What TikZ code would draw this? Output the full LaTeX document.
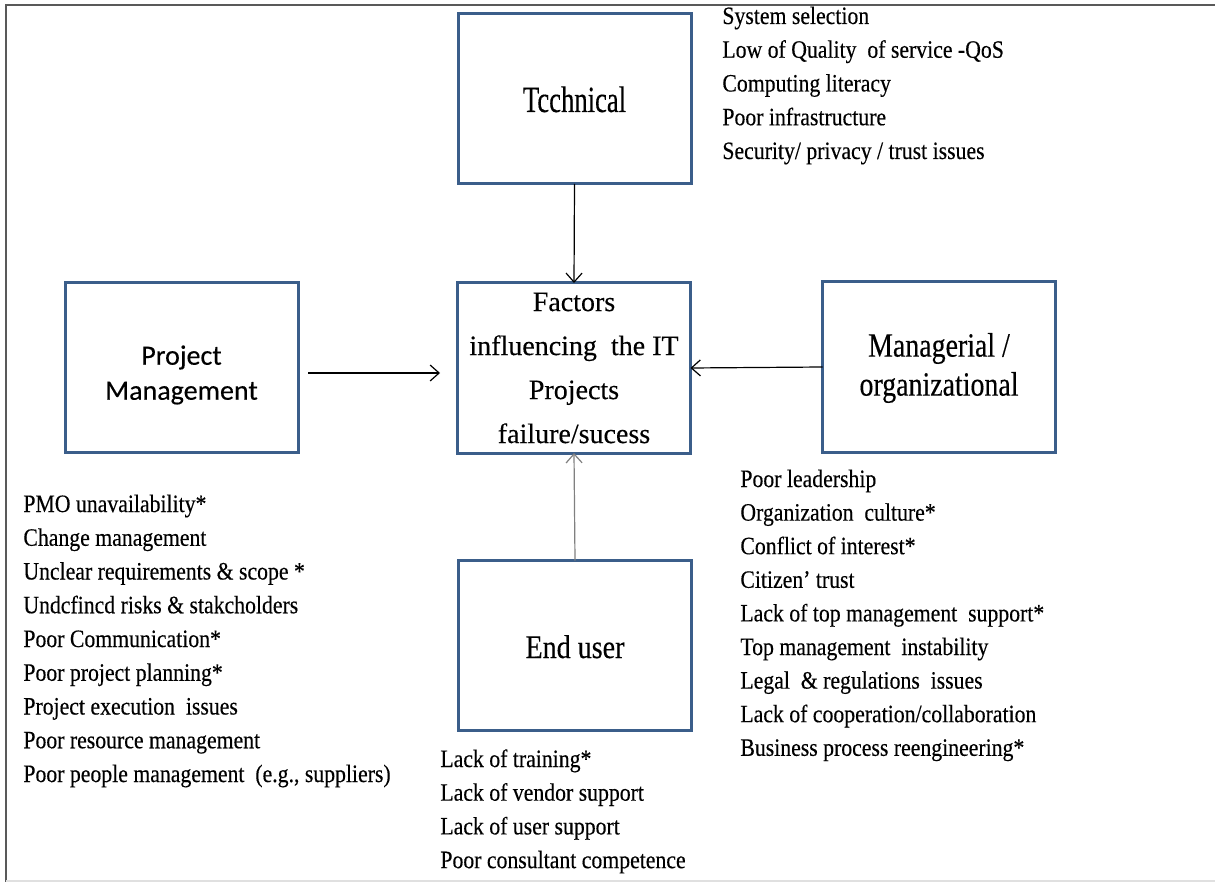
\documentclass[tikz,border=0pt]{standalone}
\usepackage{fontspec}
\setmainfont{Liberation Serif}
\newfontfamily\lstfont[FakeStretch=0.87,FakeBold=0.3]{Liberation Serif}
\newfontfamily\techfont[FakeStretch=0.72,FakeBold=0.3]{Liberation Serif}
\newfontfamily\eufont[FakeStretch=0.85,FakeBold=0.3]{Liberation Serif}
\newfontfamily\mgrfont[FakeStretch=0.82,FakeBold=0.3]{Liberation Serif}
\newfontfamily\ctrfont[FakeBold=0.3]{Liberation Serif}
\newfontfamily\pmfont[FakeBold=0.3]{Carlito}
\usetikzlibrary{arrows.meta,calc}
\definecolor{boxblue}{RGB}{59,94,138}
\tikzset{
  box/.style={draw=boxblue, line width=1.5pt, minimum width=116.5pt, minimum height=85pt, inner sep=0pt, outer sep=0pt},
  lst/.style={anchor=base west, inner sep=0pt, font=\lstfont\fontsize{12.5}{14}\selectfont},
  arr/.style={-{Straight Barb[length=4.5pt,width=8pt]}, line width=0.6pt, draw=black},
}
\begin{document}
\begin{tikzpicture}[x=0.5pt,y=-0.5pt]
\useasboundingbox (0,0) rectangle (1215,882);
% frame
\draw[line width=1pt, draw=black!65] (6,882) -- (6,5) -- (1215,5);
\draw[line width=1pt, draw=black!12] (6,880.5) -- (1215,880.5);

% boxes
\node[box] (tech) at (574.5,99) {};
\node[box, align=center, font=\ctrfont\fontsize{14}{22}\selectfont] (ctr) at (574,368)
  {Factors\\influencing\ \ the IT\\Projects\\failure/sucess};
\node[box] (pm) at (181.5,367.5) {};
\node[box] (mgr) at (939,367) {};
\node[box] (eu) at (575,645.5) {};

% box titles
\node[anchor=base, inner sep=0pt, font=\techfont\fontsize{18.5}{20}\selectfont] (techt) at (574.5,112) {Tcchnical};
\node[anchor=base, inner sep=0pt, font=\eufont\fontsize{16.5}{18}\selectfont] (eut) at (575,658) {End user};
\node[align=center, inner sep=0pt, font=\pmfont\fontsize{14}{17.5}\selectfont] (pmt) at (181.5,375) {Project\\Management};
\node[align=center, inner sep=0pt, font=\mgrfont\fontsize{17}{19.5}\selectfont] (mgrt) at (939,368) {Managerial /\\organizational};

% connectors
\coordinate (pmA) at (308,373);
\coordinate (pmB) at (440,373);
\draw[arr] (tech.south) -- (ctr.north);
\draw[arr] (pmA) -- (pmB);
\draw[arr] (mgr.west) -- (ctr.east);
\draw[arr, draw=black!50] (eu.north) -- (ctr.south);

% technical list
\foreach \t [count=\i] in {System selection, Low of Quality\ \ of service -QoS, Computing literacy, Poor infrastructure, Security/ privacy / trust issues}
  \node[lst] (t\i) at (722,{24+33.75*(\i-1)}) {\t};

% project management list
\foreach \t [count=\i] in {PMO unavailability*, Change management, Unclear requirements \& scope *, Undcfincd risks \& stakcholders, Poor Communication*, Poor project planning*, Project execution\ \ issues, Poor resource management, {Poor people management\ \ (e.g., suppliers)}}
  \node[lst] (p\i) at (23,{512+33.75*(\i-1)}) {\t};

% managerial list
\foreach \t [count=\i] in {Poor leadership, Organization\ \ culture*, Conflict of interest*, Citizen’\ trust, Lack of top management\ \ support*, Top management\ \ instability, Legal\ \ \& regulations\ \ issues, Lack of cooperation/collaboration, Business process reengineering*}
  \node[lst] (m\i) at (740,{487+33.6*(\i-1)}) {\t};

% end user list
\foreach \t [count=\i] in {Lack of training*, Lack of vendor support, Lack of user support, Poor consultant competence}
  \node[lst] (e\i) at (440,{767+33.7*(\i-1)}) {\t};
\end{tikzpicture}
\end{document}
